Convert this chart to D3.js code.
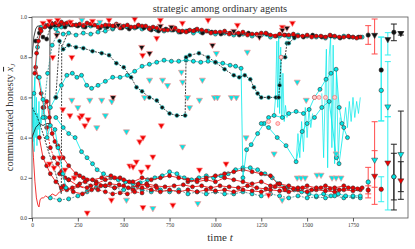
<!DOCTYPE html>
<meta charset="utf-8">
<style>
body { margin: 0; background: #fff; }
svg { font-family: "Liberation Serif", "DejaVu Serif", serif; }
.axis line { stroke: #333; stroke-width: 0.8; }
.axis path { display: none; }
.axis text { font-size: 5.5px; fill: #333; font-family: "Liberation Serif", serif; }
</style>
<body>
<div id="chart"></div>
<script src="https://d3js.org/d3.v7.min.js"></script>
<script>

// ---- data (time t, communicated honesty) ----
var xTicks = [0, 250, 500, 750, 1000, 1250, 1500, 1750];
var yTicks = [0.0, 0.2, 0.4, 0.6, 0.8, 1.0];

// thin lines without markers
var redThinT = [0, 8, 16, 24, 32, 38, 44, 52, 62, 75, 90, 110, 130, 150, 175, 200, 225, 250, 280];
var redThinV = [0.42, 0.30, 0.18, 0.10, 0.065, 0.055, 0.09, 0.10, 0.10, 0.11, 0.10, 0.12, 0.11, 0.13, 0.14, 0.15, 0.14, 0.16, 0.15];
var cyanNoiseT = [0, 3, 6, 9, 12, 15, 18, 21, 24, 27, 30, 34, 38, 42, 46, 50, 55, 60];
var cyanNoiseV = [0.45, 0.62, 0.38, 0.55, 0.33, 0.70, 0.48, 0.40, 0.60, 0.36, 0.52, 0.44, 0.58, 0.40, 0.50, 0.47, 0.55, 0.50];
var blackStepAT = [0, 10, 20, 30, 50, 80, 120, 160];
var blackStepAV = [0.80, 0.90, 0.94, 0.955, 0.955, 0.95, 0.955, 0.95];
var blackStepBT = [0, 20, 40, 60, 80, 97, 98, 120, 150];
var blackStepBV = [0.40, 0.45, 0.47, 0.46, 0.47, 0.47, 0.95, 0.955, 0.95];
var blackStepCT = [0, 30, 60, 90, 120, 160, 162, 200];
var blackStepCV = [0.55, 0.50, 0.42, 0.33, 0.25, 0.12, 0.85, 0.93];
var spikeAT = [1320, 1328, 1335, 1340, 1345, 1350, 1356, 1362, 1368, 1375, 1382, 1390, 1398];
var spikeAV = [0.51, 0.60, 0.88, 0.55, 0.90, 0.52, 0.85, 0.50, 0.72, 0.48, 0.56, 0.50, 0.52];
var spikeBT = [1440, 1450, 1460, 1470, 1480, 1490, 1500, 1510, 1520, 1530];
var spikeBV = [0.28, 0.42, 0.30, 0.48, 0.33, 0.55, 0.40, 0.54, 0.45, 0.52];
var spikeCT = [1580, 1590, 1600, 1605, 1612, 1620, 1628, 1635, 1642, 1650, 1660, 1670, 1680];
var spikeCV = [0.62, 0.30, 0.69, 0.84, 0.25, 0.80, 0.90, 0.35, 0.86, 0.27, 0.74, 0.30, 0.50];
var spikeDT = [1700, 1710, 1720, 1730, 1740, 1750, 1760, 1770, 1780, 1790];
var spikeDV = [0.47, 0.55, 0.45, 0.58, 0.48, 0.60, 0.50, 0.58, 0.52, 0.60];

// lower band
var cyanLowBT = [100, 150, 200, 250, 300, 350, 400, 450, 500, 550, 600, 650, 700, 750, 800, 850, 900, 950, 1000, 1050, 1100, 1150, 1200, 1250, 1300, 1350, 1400, 1450, 1500, 1550, 1600, 1650, 1700, 1750, 1790];
var cyanLowBV = [0.10, 0.09, 0.095, 0.11, 0.13, 0.15, 0.16, 0.15, 0.14, 0.15, 0.14, 0.13, 0.14, 0.13, 0.14, 0.12, 0.13, 0.12, 0.13, 0.12, 0.12, 0.13, 0.12, 0.11, 0.12, 0.11, 0.10, 0.11, 0.10, 0.105, 0.10, 0.11, 0.10, 0.105, 0.10];
var cyanLowAT = [130, 170, 200, 235, 270, 300, 330, 355, 390, 430, 470, 510, 550, 590, 630, 670, 710, 750, 790, 830, 870, 910, 950, 990, 1030, 1070, 1110, 1150, 1190, 1230, 1270, 1310, 1350, 1390, 1430, 1470, 1510, 1550, 1590, 1630, 1670, 1710, 1750, 1790];
var cyanLowAV = [0.50, 0.45, 0.42, 0.40, 0.33, 0.30, 0.27, 0.24, 0.22, 0.20, 0.19, 0.18, 0.17, 0.175, 0.19, 0.20, 0.21, 0.23, 0.22, 0.20, 0.19, 0.20, 0.21, 0.20, 0.21, 0.22, 0.24, 0.25, 0.25, 0.24, 0.22, 0.20, 0.17, 0.15, 0.14, 0.13, 0.12, 0.11, 0.12, 0.11, 0.12, 0.11, 0.11, 0.11];
var redLowAT = [40, 60, 80, 100, 130, 160, 190, 220, 260, 300, 350, 400, 450, 500, 550, 600, 650, 700, 750, 800, 850, 900, 950, 1000, 1050, 1100, 1150, 1200, 1250, 1300, 1350, 1400, 1450, 1500, 1550, 1600, 1650, 1700, 1750, 1790];
var redLowAV = [0.40, 0.30, 0.26, 0.22, 0.18, 0.15, 0.14, 0.15, 0.17, 0.19, 0.18, 0.16, 0.15, 0.16, 0.14, 0.15, 0.14, 0.13, 0.14, 0.13, 0.14, 0.13, 0.14, 0.135, 0.14, 0.13, 0.14, 0.135, 0.13, 0.14, 0.135, 0.13, 0.14, 0.13, 0.14, 0.135, 0.13, 0.14, 0.135, 0.14];
var redLowBT = [150, 200, 250, 300, 350, 400, 450, 500, 550, 600, 650, 700, 750, 800, 850, 900, 950, 1000, 1050, 1100, 1150, 1200, 1250, 1300, 1350, 1400, 1450, 1500, 1550, 1600, 1650, 1700, 1750, 1800];
var redLowBV = [0.22, 0.19, 0.16, 0.15, 0.17, 0.19, 0.20, 0.19, 0.18, 0.20, 0.19, 0.20, 0.21, 0.20, 0.19, 0.18, 0.19, 0.18, 0.20, 0.19, 0.18, 0.17, 0.18, 0.16, 0.17, 0.16, 0.15, 0.16, 0.15, 0.16, 0.15, 0.16, 0.15, 0.15];
var redLowDT = [175, 225, 275, 325, 375, 425, 475, 525, 575, 625, 675, 725, 775, 825, 875, 925, 975, 1025, 1075, 1125, 1175, 1225, 1275, 1325, 1375, 1425, 1475, 1525, 1575, 1625, 1675, 1725, 1775];
var redLowDV = [0.16, 0.13, 0.12, 0.14, 0.16, 0.17, 0.165, 0.15, 0.16, 0.17, 0.16, 0.155, 0.16, 0.165, 0.155, 0.16, 0.15, 0.16, 0.155, 0.15, 0.16, 0.15, 0.145, 0.155, 0.15, 0.145, 0.15, 0.14, 0.15, 0.145, 0.14, 0.15, 0.145];
var redBumpT = [850, 900, 950, 1000, 1050, 1100, 1150, 1200, 1250, 1300, 1340, 1380];
var redBumpV = [0.18, 0.19, 0.20, 0.21, 0.22, 0.23, 0.24, 0.23, 0.22, 0.21, 0.17, 0.14];
var redLowCT = [60, 80, 100, 120, 140, 160, 180, 200, 230, 260, 290, 320, 360, 400, 440, 480, 520, 560, 600];
var redLowCV = [0.55, 0.45, 0.35, 0.30, 0.27, 0.23, 0.20, 0.19, 0.20, 0.21, 0.18, 0.16, 0.14, 0.13, 0.12, 0.125, 0.12, 0.13, 0.125];
var redEarlyT = [20, 35, 50, 65, 80, 95, 110, 125, 140, 170, 200, 240, 280, 330, 380, 430, 480, 530, 580, 630, 680];
var redEarlyV = [0.75, 0.70, 0.62, 0.55, 0.58, 0.50, 0.42, 0.38, 0.36, 0.30, 0.26, 0.22, 0.20, 0.19, 0.20, 0.21, 0.20, 0.18, 0.17, 0.16, 0.15];
var cyanEarlyT = [40, 60, 71, 82, 100, 125, 142, 153, 169, 185];
var cyanEarlyV = [0.70, 0.59, 0.50, 0.40, 0.46, 0.44, 0.35, 0.30, 0.22, 0.15];

// middle trajectories
var cyanPlatT = [100, 130, 160, 190, 220, 245, 270, 298, 325, 360, 400, 440, 480, 520, 560, 600, 640, 680, 720, 760, 800, 840, 880, 920, 960, 1000, 1040, 1080, 1110, 1140, 1150, 1170, 1195, 1230, 1265, 1290, 1320, 1365, 1400, 1440, 1480, 1511, 1540, 1570, 1603, 1630, 1658, 1675, 1690, 1720];
var cyanPlatV = [0.55, 0.60, 0.66, 0.71, 0.72, 0.70, 0.71, 0.66, 0.645, 0.66, 0.68, 0.70, 0.70, 0.71, 0.73, 0.755, 0.765, 0.775, 0.785, 0.78, 0.78, 0.785, 0.78, 0.775, 0.78, 0.775, 0.77, 0.76, 0.755, 0.745, 0.20, 0.34, 0.365, 0.42, 0.47, 0.50, 0.51, 0.50, 0.52, 0.53, 0.52, 0.54, 0.60, 0.64, 0.69, 0.72, 0.74, 0.55, 0.47, 0.40];
var cyanRiseBT = [1250, 1290, 1337, 1385, 1440, 1473, 1500, 1540, 1580, 1620, 1660, 1674, 1700];
var cyanRiseBV = [0.47, 0.45, 0.40, 0.36, 0.28, 0.43, 0.47, 0.50, 0.55, 0.58, 0.30, 0.27, 0.45];
var blackDescT = [130, 150, 170, 200, 240, 280, 330, 380, 420, 460, 500, 540, 570, 600, 640, 680, 710, 750, 790, 835, 840, 860, 910, 960, 1000, 1050, 1100, 1130, 1160, 1190, 1210, 1230, 1250, 1290, 1330, 1345, 1350, 1360, 1380, 1390, 1400, 1430];
var blackDescV = [0.60, 0.88, 0.84, 0.86, 0.85, 0.845, 0.83, 0.82, 0.81, 0.77, 0.75, 0.70, 0.65, 0.63, 0.60, 0.585, 0.55, 0.52, 0.51, 0.51, 0.80, 0.81, 0.82, 0.80, 0.775, 0.74, 0.71, 0.70, 0.71, 0.69, 0.65, 0.62, 0.60, 0.60, 0.60, 0.60, 0.66, 0.80, 0.80, 0.87, 0.87, 0.895];
var cyanMidT = [60, 85, 110, 140, 170, 200, 240, 280, 320, 360, 400, 440, 480];
var cyanMidV = [0.50, 0.72, 0.86, 0.92, 0.915, 0.92, 0.91, 0.92, 0.915, 0.925, 0.93, 0.94, 0.95];

// upper band
var cyanTopT = [10, 30, 50, 70, 100, 130, 160, 200, 240, 280, 320, 360, 400, 440, 480, 520, 560, 600, 640, 680, 720, 760, 800, 840, 880, 920, 960, 1000, 1050, 1100, 1150, 1200, 1250, 1300, 1350, 1400, 1450, 1500, 1550, 1600, 1650, 1700, 1750, 1800];
var cyanTopV = [0.62, 0.85, 0.95, 0.96, 0.95, 0.94, 0.95, 0.965, 0.96, 0.95, 0.955, 0.96, 0.95, 0.945, 0.955, 0.95, 0.945, 0.94, 0.945, 0.935, 0.93, 0.935, 0.925, 0.93, 0.92, 0.925, 0.93, 0.915, 0.92, 0.91, 0.915, 0.905, 0.91, 0.90, 0.905, 0.90, 0.91, 0.905, 0.90, 0.895, 0.90, 0.905, 0.90, 0.90];
var blackTopT = [20, 40, 60, 80, 100, 120, 150, 180, 210, 250, 290, 330, 370, 410, 450, 490, 530, 570, 610, 650, 690, 730, 770, 810, 850, 890, 930, 980, 1030, 1080, 1130, 1180, 1230, 1280, 1330, 1380, 1430, 1480, 1530, 1580, 1630, 1680, 1730, 1780];
var blackTopV = [0.88, 0.92, 0.90, 0.89, 0.95, 0.96, 0.96, 0.95, 0.96, 0.955, 0.95, 0.96, 0.945, 0.95, 0.955, 0.945, 0.94, 0.95, 0.945, 0.935, 0.93, 0.94, 0.935, 0.925, 0.93, 0.935, 0.92, 0.925, 0.915, 0.92, 0.91, 0.92, 0.91, 0.915, 0.905, 0.91, 0.905, 0.90, 0.91, 0.90, 0.905, 0.895, 0.90, 0.90];
var redTopT = [15, 25, 35, 50, 70, 90, 110, 130, 160, 190, 220, 260, 300, 340, 380, 420, 460, 500, 540, 580, 620, 660, 700, 740, 780, 820, 860, 900, 950, 1000, 1050, 1100, 1150, 1200, 1250, 1300, 1350, 1400, 1450, 1500, 1550, 1600, 1650, 1700, 1750, 1790];
var redTopV = [0.72, 0.82, 0.88, 0.93, 0.95, 0.96, 0.965, 0.97, 0.975, 0.97, 0.96, 0.965, 0.97, 0.96, 0.955, 0.96, 0.965, 0.955, 0.95, 0.96, 0.955, 0.95, 0.94, 0.935, 0.945, 0.93, 0.935, 0.94, 0.93, 0.925, 0.93, 0.92, 0.925, 0.915, 0.92, 0.91, 0.915, 0.91, 0.905, 0.91, 0.905, 0.90, 0.905, 0.90, 0.90, 0.90];
var redTop2T = [45, 75, 105, 145, 175, 205, 240, 280, 320, 360, 400, 440, 480, 520, 560, 600, 640, 680, 720, 760, 800, 840, 880, 925, 975, 1025, 1075, 1125, 1175, 1225, 1275, 1325, 1375, 1425, 1475, 1525, 1575, 1625, 1675, 1725, 1770];
var redTop2V = [0.94, 0.955, 0.97, 0.96, 0.965, 0.975, 0.96, 0.955, 0.965, 0.95, 0.96, 0.955, 0.945, 0.96, 0.95, 0.955, 0.94, 0.945, 0.935, 0.94, 0.93, 0.925, 0.93, 0.935, 0.92, 0.925, 0.915, 0.92, 0.91, 0.915, 0.92, 0.905, 0.91, 0.915, 0.905, 0.90, 0.905, 0.91, 0.90, 0.905, 0.895];

// scattered markers
var triRedT = [60, 95, 140, 210, 330, 420, 560, 700, 820, 960, 1120, 1365, 1420, 113, 168, 207, 261, 272, 288, 306, 533, 551, 569, 587, 596, 605, 632, 659, 705, 913, 1058, 603, 680, 301, 433, 605, 768, 1290, 95, 120, 150, 180, 230, 217];
var triRedV = [0.97, 0.98, 0.985, 0.975, 0.98, 0.985, 0.99, 0.985, 0.97, 0.985, 0.96, 0.95, 0.97, 0.80, 0.54, 0.51, 0.50, 0.51, 0.46, 0.49, 0.26, 0.255, 0.28, 0.38, 0.23, 0.40, 0.255, 0.305, 0.46, 0.24, 0.27, 0.81, 0.895, 0.026, 0.09, 0.053, 0.065, 0.115, 0.27, 0.25, 0.30, 0.24, 0.20, 0.80];
var triCyanT = [217, 250, 315, 380, 435, 400, 353, 515, 641, 712, 821, 929, 815, 614, 848, 913, 995, 1011, 1087, 1114, 859, 739, 1174, 1005, 1446, 1495, 1446, 1467, 1489, 1554, 1576, 1636, 1658, 1685, 1364, 659, 904, 515, 821, 1167, 272, 370, 1320, 1658];
var triCyanV = [0.587, 0.55, 0.587, 0.587, 0.58, 0.51, 0.45, 0.43, 0.687, 0.687, 0.677, 0.687, 0.726, 0.60, 0.60, 0.587, 0.60, 0.60, 0.60, 0.60, 0.55, 0.66, 0.826, 0.82, 0.677, 0.587, 0.20, 0.20, 0.20, 0.214, 0.214, 0.20, 0.20, 0.20, 0.09, 0.048, 0.073, 0.09, 0.355, 0.40, 0.985, 0.975, 0.32, 0.32];
var triBlackT = [135, 598, 641, 984, 442, 1365, 1390, 1240, 700, 760, 470, 1100];
var triBlackV = [0.91, 0.85, 0.82, 0.86, 0.60, 0.935, 0.945, 0.90, 0.955, 0.95, 0.96, 0.93];
var redDotT = [1540, 1565, 1600, 1650, 1290, 1340, 1358];
var redDotV = [0.60, 0.60, 0.60, 0.60, 0.48, 0.47, 0.80];

// error bars at the right: one x per group, marker colours black / red / cyan
var ebT = [1833, 1868, 1904, 1940, 1973, 2011];
var ebBlackMid = [0.91, 0.91, 0.736, 0.889, 0.924, 0.919];
var ebBlackLo  = [0.864, 0.816, 0.483, 0.811, 0.882, 0.91];
var ebBlackHi  = [0.957, 0.99, 0.90, 0.922, 0.965, 0.927];
var ebRedMid = [0.139, 0.209, 0.143, 0.275, 0.205, 0.186];
var ebRedLo  = [0.12, 0.153, 0.081, 0.04, 0.09, 0.131];
var ebRedHi  = [0.16, 0.335, 0.205, 0.504, 0.322, 0.28];
var ebCyanMid = [0.179, 0.289, 0.635, 0.554, 0.205, 0.317];
var ebCyanLo  = [0.10, 0.068, 0.483, 0.504, 0.04, 0.093];
var ebCyanHi  = [0.252, 0.479, 0.90, 0.778, 0.367, 0.532];

// ---- styles ----
var RED = "#f00000", CYAN = "#00e8e8", BLACK = "#111";
var ebBarColor = ["#ff4d4d", "#ff4d4d", "#33f0f0", "#33f0f0", "#222", "#222"];
var ebShape = ["circle", "triangle", "circle", "triangle", "circle", "triangle"];

var margin = {top: 17, right: 7, bottom: 31, left: 32},
    width = 415 - margin.left - margin.right,
    height = 249 - margin.top - margin.bottom;

var x = d3.scaleLinear().domain([0, 2050]).range([0, width]);
var y = d3.scaleLinear().domain([0, 1]).range([height, 0]);

var svgRoot = d3.select("#chart").append("svg")
    .attr("width", width + margin.left + margin.right)
    .attr("height", height + margin.top + margin.bottom);

svgRoot.append("defs").append("clipPath").attr("id", "plotclip")
  .append("rect").attr("width", width).attr("height", height);

var svg = svgRoot.append("g")
    .attr("transform", "translate(" + margin.left + "," + margin.top + ")");

var plot = svg.append("g").attr("clip-path", "url(#plotclip)");

var line = d3.line()
    .x(function(d) { return x(d[0]); })
    .y(function(d) { return y(d[1]); });

var tri = d3.symbol().type(d3.symbolTriangle).size(16);

function pairs(ts, vs) {
  return ts.map(function(t, i) { return [t, vs[i]]; });
}

function drawSeries(ts, vs, opt) {
  var pts = pairs(ts, vs);
  if (opt.stroke) {
    plot.append("path").datum(pts)
        .attr("fill", "none")
        .attr("stroke", opt.stroke)
        .attr("stroke-width", opt.lw || 0.8)
        .attr("stroke-dasharray", opt.dash || null)
        .attr("d", line);
  }
  if (opt.marker == "circle") {
    plot.append("g").selectAll("circle").data(pts).enter().append("circle")
        .attr("cx", function(d) { return x(d[0]); })
        .attr("cy", function(d) { return y(d[1]); })
        .attr("r", 2.0)
        .attr("fill", opt.fill)
        .attr("stroke", opt.edge || "#333")
        .attr("stroke-width", 0.6);
  }
  if (opt.marker == "triangle") {
    plot.append("g").selectAll("path").data(pts).enter().append("path")
        .attr("d", tri)
        .attr("transform", function(d) {
          return "translate(" + x(d[0]) + "," + y(d[1]) + ") rotate(180)";
        })
        .attr("fill", opt.fill)
        .attr("stroke", opt.edge || "#ff8f8f")
        .attr("stroke-width", 0.7);
  }
}

// thin lines
drawSeries(cyanNoiseT, cyanNoiseV, {stroke: CYAN, lw: 0.7});
drawSeries(redThinT, redThinV, {stroke: RED, lw: 0.8});
drawSeries(blackStepAT, blackStepAV, {stroke: BLACK, lw: 0.8});
drawSeries(blackStepBT, blackStepBV, {stroke: BLACK, lw: 0.8});
drawSeries(blackStepCT, blackStepCV, {stroke: BLACK, lw: 0.8, dash: "2,1.2"});
drawSeries(spikeAT, spikeAV, {stroke: CYAN, lw: 0.7});
drawSeries(spikeBT, spikeBV, {stroke: CYAN, lw: 0.7});
drawSeries(spikeCT, spikeCV, {stroke: CYAN, lw: 0.7});
drawSeries(spikeDT, spikeDV, {stroke: CYAN, lw: 0.7});

// lower band
drawSeries(cyanLowBT, cyanLowBV, {stroke: "#3a8a8a", dash: "2,1.2", marker: "circle", fill: CYAN});
drawSeries(cyanLowAT, cyanLowAV, {stroke: CYAN, marker: "circle", fill: CYAN});
drawSeries(redLowAT, redLowAV, {stroke: RED, marker: "circle", fill: RED});
drawSeries(redLowDT, redLowDV, {stroke: RED, marker: "circle", fill: RED});
drawSeries(redBumpT, redBumpV, {stroke: RED, marker: "circle", fill: RED});
drawSeries(redLowBT, redLowBV, {stroke: RED, marker: "circle", fill: RED});
drawSeries(redLowCT, redLowCV, {stroke: RED, dash: "2,1.2", marker: "circle", fill: RED});
drawSeries(redEarlyT, redEarlyV, {stroke: RED, marker: "circle", fill: RED});
drawSeries(cyanEarlyT, cyanEarlyV, {stroke: CYAN, marker: "circle", fill: CYAN});

// middle
drawSeries(cyanPlatT, cyanPlatV, {stroke: CYAN, marker: "circle", fill: CYAN});
drawSeries(cyanRiseBT, cyanRiseBV, {stroke: CYAN, marker: "circle", fill: CYAN});
drawSeries(blackDescT, blackDescV, {stroke: BLACK, dash: "2,1.2", marker: "circle", fill: BLACK, edge: "#2bd0d0"});
drawSeries(cyanMidT, cyanMidV, {stroke: "#3a8a8a", dash: "2,1.2", marker: "circle", fill: CYAN});

// upper band
drawSeries(cyanTopT, cyanTopV, {stroke: CYAN, marker: "circle", fill: CYAN});
drawSeries(blackTopT, blackTopV, {stroke: BLACK, dash: "2,1.2", marker: "circle", fill: BLACK});
drawSeries(redTop2T, redTop2V, {stroke: RED, marker: "circle", fill: RED});
drawSeries(redTopT, redTopV, {stroke: RED, marker: "circle", fill: RED});

// scatter
drawSeries(redDotT, redDotV, {marker: "circle", fill: "#ffd0d0", edge: "#ff5a5a"});
drawSeries(triCyanT, triCyanV, {marker: "triangle", fill: CYAN});
drawSeries(triRedT, triRedV, {marker: "triangle", fill: RED});
drawSeries(triBlackT, triBlackV, {marker: "triangle", fill: BLACK});

// error bars
var ebSets = [
  {mid: ebRedMid, lo: ebRedLo, hi: ebRedHi, fill: RED},
  {mid: ebCyanMid, lo: ebCyanLo, hi: ebCyanHi, fill: CYAN},
  {mid: ebBlackMid, lo: ebBlackLo, hi: ebBlackHi, fill: BLACK}
];
ebSets.forEach(function(set) {
  ebT.forEach(function(t, i) {
    var g = plot.append("g").attr("stroke", ebBarColor[i]).attr("stroke-width", 1);
    var cx = x(t);
    g.append("line").attr("x1", cx).attr("x2", cx)
        .attr("y1", y(set.lo[i])).attr("y2", y(set.hi[i]));
    [set.lo[i], set.hi[i]].forEach(function(v) {
      g.append("line").attr("x1", cx - 3).attr("x2", cx + 3)
          .attr("y1", y(v)).attr("y2", y(v));
    });
  });
});
ebSets.forEach(function(set) {
  ebT.forEach(function(t, i) {
    if (ebShape[i] == "circle") {
      plot.append("circle").attr("cx", x(t)).attr("cy", y(set.mid[i])).attr("r", 2.2)
          .attr("fill", set.fill).attr("stroke", "#333").attr("stroke-width", 0.6);
    } else {
      plot.append("path").attr("d", tri)
          .attr("transform", "translate(" + x(t) + "," + y(set.mid[i]) + ") rotate(180)")
          .attr("fill", set.fill).attr("stroke", "#333").attr("stroke-width", 0.5);
    }
  });
});

// frame
svg.append("rect").attr("width", width).attr("height", height)
    .attr("fill", "none").attr("stroke", "#555").attr("stroke-width", 0.8);

// axes
svg.append("g").attr("class", "axis")
    .attr("transform", "translate(0," + height + ")")
    .call(d3.axisBottom(x).tickValues(xTicks).tickSize(3.5).tickPadding(1.5).tickFormat(d3.format("d")));
svg.append("g").attr("class", "axis")
    .call(d3.axisLeft(y).tickValues(yTicks).tickSize(3.5).tickPadding(1.5).tickFormat(d3.format(".1f")));

// texts
svg.append("text")
    .attr("x", width / 2).attr("y", -5)
    .attr("text-anchor", "middle")
    .style("font-size", "10.5px").style("fill", "#333")
    .text("strategic among ordinary agents");

var xl = svg.append("text")
    .attr("x", width / 2).attr("y", height + 23)
    .attr("text-anchor", "middle")
    .style("font-size", "11px").style("fill", "#333");
xl.append("tspan").text("time ");
xl.append("tspan").style("font-style", "italic").text("t");

var yl = svg.append("text")
    .attr("transform", "translate(" + (13 - margin.left) + "," + (height / 2) + ") rotate(-90)")
    .attr("text-anchor", "middle")
    .style("font-size", "10.5px").style("fill", "#333");
yl.append("tspan").text("communicated honesty ");
yl.append("tspan").style("font-style", "italic").style("text-decoration", "overline").text("x");
yl.append("tspan").attr("dy", 2).style("font-size", "7px").style("font-style", "italic").text("J");

</script>
</body>
